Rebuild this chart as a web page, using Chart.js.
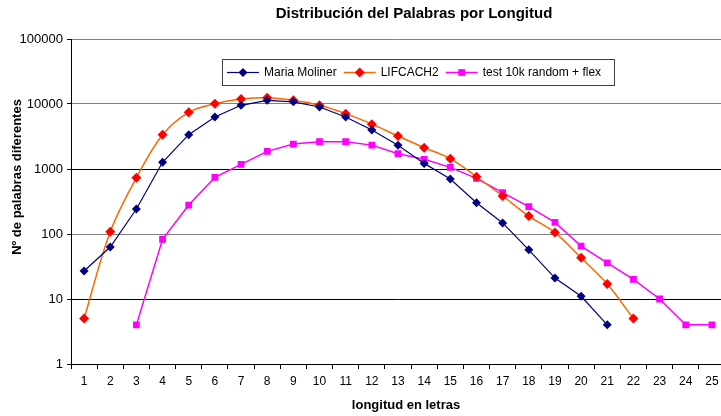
<!DOCTYPE html>
<html>
<head>
<meta charset="utf-8">
<title>Distribución del Palabras por Longitud</title>
<script src="https://cdn.jsdelivr.net/npm/chart.js@4.4.0/dist/chart.umd.min.js"></script>
<style>
  html, body { margin: 0; padding: 0; background: #fff; overflow: hidden; }
  #wrap { position: relative; width: 721px; height: 416px; overflow: hidden; }
</style>
</head>
<body>
<div id="wrap"><canvas id="myChart" width="725" height="416"></canvas></div>
<script>
// datos
const titulo = 'Distribución del Palabras por Longitud';
const tituloX = 'longitud en letras';
const tituloY = 'Nº de palabras diferentes';
const longitudes = ['1','2','3','4','5','6','7','8','9','10','11','12','13','14','15','16','17','18','19','20','21','22','23','24','25'];
const mariaMoliner = [27, 63, 242, 1270, 3370, 6310, 9550, 11400, 10800, 9000, 6310, 3980, 2320, 1220, 700, 303, 148, 57, 21, 11, 4, null, null, null, null];
const lifcach2 = [5, 108, 735, 3370, 7450, 10100, 11900, 12500, 11400, 9550, 7100, 4900, 3220, 2130, 1440, 760, 384, 189, 105, 43, 17, 5, null, null, null];
const test10k = [null, null, 4, 83, 279, 745, 1180, 1870, 2420, 2630, 2630, 2330, 1720, 1410, 1060, 719, 432, 263, 151, 65, 36, 20, 10, 4, 4];
const decadas = [1, 10, 100, 1000, 10000, 100000];
const nombres = ['Maria Moliner', 'LIFCACH2', 'test 10k random + flex'];

const FUENTE = "'Liberation Sans', Arial, sans-serif";

// titulos y leyenda dibujados a mano (no van centrados sobre el area del grafico)
const extras = {
  id: 'extras',
  afterDraw(chart) {
    const ctx = chart.ctx;
    ctx.save();
    ctx.fillStyle = '#000';
    ctx.textAlign = 'center';
    ctx.textBaseline = 'middle';
    ctx.font = 'bold 15px ' + FUENTE;
    ctx.fillText(titulo, 414, 14);
    ctx.font = 'bold 13px ' + FUENTE;
    ctx.fillText(tituloX, 406, 405);
    ctx.save();
    ctx.translate(17, 177);
    ctx.rotate(-Math.PI / 2);
    ctx.fillText(tituloY, 0, 0);
    ctx.restore();

    // caja de la leyenda
    ctx.fillStyle = '#fff';
    ctx.fillRect(222.5, 59.5, 392, 26);
    ctx.strokeStyle = '#404040';
    ctx.lineWidth = 1;
    ctx.strokeRect(222.5, 59.5, 392, 26);

    ctx.font = '12px ' + FUENTE;
    ctx.textAlign = 'left';
    let x = 227;
    const y = 72.5;
    chart.data.datasets.forEach((ds) => {
      ctx.strokeStyle = ds.borderColor;
      ctx.lineWidth = ds.borderWidth;
      ctx.beginPath();
      ctx.moveTo(x, y);
      ctx.lineTo(x + 32, y);
      ctx.stroke();
      const cx = x + 16, r = ds.pointRadius;
      ctx.fillStyle = ds.pointBackgroundColor;
      ctx.beginPath();
      if (ds.pointStyle === 'rect') {
        const s = r * Math.SQRT1_2;
        ctx.rect(cx - s, y - s, 2 * s, 2 * s);
      } else {
        ctx.moveTo(cx, y - r); ctx.lineTo(cx + r, y); ctx.lineTo(cx, y + r); ctx.lineTo(cx - r, y);
        ctx.closePath();
      }
      ctx.fill();
      ctx.fillStyle = '#000';
      ctx.fillText(ds.label, x + 37, y + 0.5);
      x += 37 + ctx.measureText(ds.label).width + 7;
    });
    ctx.restore();
  }
};

const ctx = document.getElementById('myChart').getContext('2d');
const chart = new Chart(ctx, {
  type: 'line',
  data: {
    labels: longitudes,
    datasets: [{
      label: nombres[0],
      data: mariaMoliner,
      borderColor: '#000080',
      backgroundColor: '#000080',
      borderWidth: 1.2,
      pointStyle: 'rectRot',
      pointRadius: 4.5,
      pointBackgroundColor: '#000080',
      pointBorderColor: '#000080',
      pointBorderWidth: 0,
      tension: 0
    }, {
      label: nombres[1],
      data: lifcach2,
      borderColor: '#FF6600',
      backgroundColor: '#FF0000',
      borderWidth: 1.5,
      pointStyle: 'rectRot',
      pointRadius: 5,
      pointBackgroundColor: '#FF0000',
      pointBorderColor: '#FF0000',
      pointBorderWidth: 0,
      tension: 0.35
    }, {
      label: nombres[2],
      data: test10k,
      borderColor: '#FF00FF',
      backgroundColor: '#FF00FF',
      borderWidth: 1.5,
      pointStyle: 'rect',
      pointRadius: 4.8,
      pointBackgroundColor: '#FF00FF',
      pointBorderColor: '#FF00FF',
      pointBorderWidth: 0,
      tension: 0
    }]
  },
  options: {
    responsive: false,
    animation: false,
    events: [],
    layout: { padding: { top: 39, left: 0, right: 0, bottom: 0 }, autoPadding: false },
    plugins: {
      legend: { display: false },
      title: { display: false },
      tooltip: { enabled: false }
    },
    scales: {
      x: {
        type: 'category',
        offset: true,
        grid: { display: true, drawOnChartArea: false, offset: true, tickLength: 5, color: '#000', tickColor: '#000' },
        border: { display: true, color: '#000', width: 1 },
        ticks: { color: '#000', font: { family: FUENTE, size: 12 }, padding: 5, maxRotation: 0, autoSkip: false },
        afterFit(scale) { scale.height = 52; }
      },
      y: {
        type: 'logarithmic',
        min: 1,
        max: 100000,
        afterBuildTicks(scale) { scale.ticks = decadas.map(v => ({ value: v })); },
        grid: {
          color: (c) => (c.tick && [100000, 10000, 100].includes(c.tick.value)) ? '#808080' : '#000',
          tickColor: '#000',
          tickLength: 4,
          lineWidth: 1
        },
        border: { display: true, color: '#000', width: 1 },
        ticks: { color: '#000', font: { family: FUENTE, size: 13 }, padding: 4, callback: (v) => String(v) },
        afterFit(scale) { scale.width = 71; }
      }
    }
  },
  plugins: [extras]
});
</script>
</body>
</html>
